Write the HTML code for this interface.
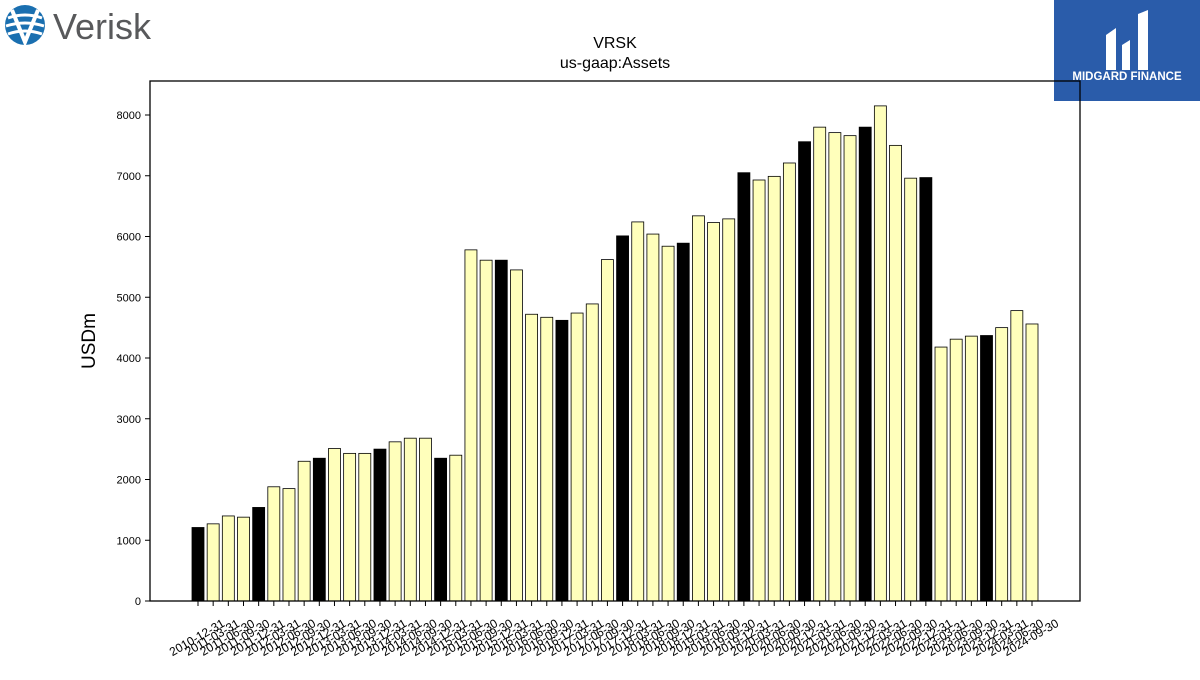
<!DOCTYPE html>
<html><head><meta charset="utf-8"><style>
body{margin:0;background:#fff;width:1200px;height:675px;overflow:hidden;font-family:"Liberation Sans","DejaVu Sans",sans-serif}
</style></head><body>
<svg width="1200" height="675" xmlns="http://www.w3.org/2000/svg" id="chart">
<g>
<circle cx="25" cy="25" r="20" fill="#1a6fb0"/>
<path d="M8 18 Q25 12 42 18 M6 26 Q25 20 44 26 M8 34 Q25 28 42 34" stroke="#fff" stroke-width="3" fill="none"/>
<path d="M12 10 L25 42 L38 10" stroke="#fff" stroke-width="4" fill="none"/>
<text x="53" y="39" font-size="36" fill="#58595b">Verisk</text>
</g>
<g>
<rect x="1054" y="0" width="146" height="101" fill="#2a5caa"/>
<path d="M1106 70 L1106 35 L1116 28 L1116 70 Z M1122 45 L1130 40 L1130 70 L1122 70 Z M1138 14 L1148 10 L1148 70 L1138 70 Z" fill="#fff"/>
<text x="1127" y="80" font-size="11.5" font-weight="bold" fill="#fff" text-anchor="middle">MIDGARD FINANCE</text>
</g>
<text x="615" y="48" font-size="16" text-anchor="middle">VRSK</text>
<text x="615" y="68" font-size="16" text-anchor="middle">us-gaap:Assets</text>
<text transform="translate(95,341) rotate(-90)" font-size="19" text-anchor="middle">USDm</text>
<g id="plot"></g>
<rect x="150" y="81" width="930" height="520" fill="none" stroke="#000" stroke-width="1.3"/>
</svg>
<script>
const values=[1210,1270,1400,1380,1540,1880,1850,2300,2350,2510,2430,2430,2500,2620,2680,2680,2350,2400,5780,5610,5610,5450,4720,4670,4620,4740,4890,5620,6010,6240,6040,5840,5890,6340,6230,6290,7050,6930,6990,7210,7560,7800,7710,7660,7800,8150,7500,6960,6970,4180,4310,4360,4370,4500,4780,4560];
const yTicks=[0,1000,2000,3000,4000,5000,6000,7000,8000];
const quarterEnds=["03-31","06-30","09-30","12-31"];
const labels=[];
for(let i=0;i<values.length;i++){const q=(3+i)%4;const yr=2010+Math.floor((3+i)/4);labels.push(yr+"-"+quarterEnds[q]);}
const NS="http://www.w3.org/2000/svg";
const g=document.getElementById('plot');
const y=v=>601-v*0.06075;
const x=i=>198+i*(834/(values.length-1));
function mk(t,a){const e=document.createElementNS(NS,t);for(const k in a)e.setAttribute(k,a[k]);g.appendChild(e);return e;}
yTicks.forEach(v=>{
 const l=mk('line',{x1:145,x2:150,y1:y(v),y2:y(v),stroke:'#000'});
 
 
 const t=mk('text',{x:141,y:y(v)+4,'font-size':11,'text-anchor':'end'});t.textContent=v;
 
 
});
values.forEach((v,i)=>{
 const black=labels[i].endsWith("12-31");
 const r=mk('rect',{x:x(i)-6,y:y(v),width:12,height:601-y(v),fill:black?'#000':'#ffffbb',stroke:'#000','stroke-width':0.8});
 
 
 const tk=mk('line',{x1:x(i),x2:x(i),y1:601,y2:606,stroke:'#000','stroke-width':1});
 
 
 const t=mk('text',{transform:`translate(${x(i)+1},641) rotate(-30)`,'font-size':12,'text-anchor':'middle'});t.textContent=labels[i];
 
 
});
</script>
</body></html>
